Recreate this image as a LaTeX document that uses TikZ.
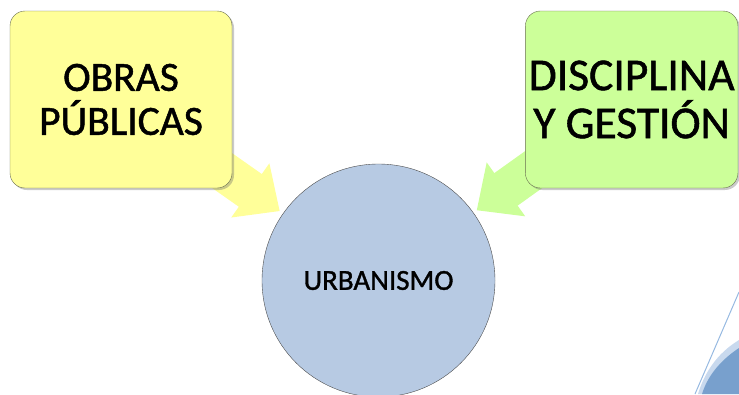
\documentclass[tikz,border=0pt]{standalone}
\usepackage{fontspec}
\setmainfont{Carlito}
\newfontfamily\heavyfont[FakeBold=1.2]{Carlito}
\usepackage{tikz}
\usetikzlibrary{positioning}
\usetikzlibrary{arrows.meta}
\usetikzlibrary{backgrounds}
\usetikzlibrary{shadows}
\definecolor{obrasfill}{RGB}{255,255,153}
\definecolor{discfill}{RGB}{204,255,153}
\definecolor{urbfill}{RGB}{183,202,227}
\definecolor{boxline}{RGB}{105,110,80}
\definecolor{decoline}{RGB}{150,185,225}
\definecolor{decolight}{RGB}{200,217,238}
\definecolor{decodark}{RGB}{120,160,205}
\tikzstyle{box} = [draw=boxline, rounded corners=15pt, align=center, minimum height=177pt, drop shadow={shadow xshift=2pt, shadow yshift=-2pt, opacity=0.35, fill=black!60}]
\tikzstyle{hub} = [draw=black!70, circle, fill=urbfill, minimum size=233pt, inner sep=0pt]
\tikzstyle{feed} = [line width=40pt, -{Triangle[length=36pt,width=64pt]}, shorten >=4pt]

\begin{document}
\begin{tikzpicture}[x=1pt,y=-1pt]
    \useasboundingbox (0,0) rectangle (739,394);
    \node [box, fill=obrasfill, minimum width=222pt, font=\heavyfont\fontsize{41.5}{44}\selectfont] (obras) at (121,99.5) {OBRAS\\PÚBLICAS};
    \node [box, fill=discfill, minimum width=212pt, font=\heavyfont\fontsize{45.5}{48}\selectfont, right = 293pt of obras] (disc) {DISCIPLINA\\Y GESTIÓN};
    \node [hub, font=\heavyfont\fontsize{29}{30}\selectfont] (urb) at (378.5,280.5) {URBANISMO};

    \begin{scope}[on background layer]
    \draw [feed, obrasfill] (obras.center) -- (urb);
    \draw [feed, discfill] (disc.center) -- (urb);
    \end{scope}

    % corner decoration
    \fill [decolight] (739,340) .. controls (716,354) and (704,374) .. (698,394) -- (739,394) -- cycle;
    \fill [decodark] (739,348) .. controls (718,362) and (707,378) .. (702,394) -- (739,394) -- cycle;
    \draw [decoline, line width=1pt] (739,292) -- (695,394);
\end{tikzpicture}
\end{document}
